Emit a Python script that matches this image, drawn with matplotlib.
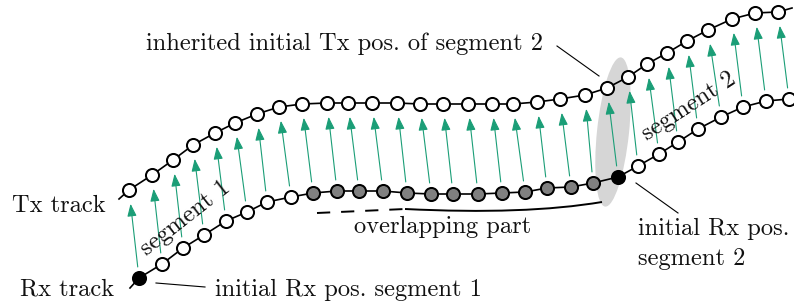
import matplotlib
matplotlib.use("Agg")
import matplotlib.pyplot as plt
import numpy as np
from matplotlib.patches import FancyArrowPatch, Ellipse, PathPatch
from matplotlib.path import Path

# ---- data (pixel-space diagram coordinates) ----
rx_x = [139, 162, 183, 204, 226, 247, 267, 291,
        313, 337, 359, 383, 407, 431, 453, 478, 502, 525, 547, 571, 593,
        618,
        638, 659, 678, 698, 721, 743, 766, 789]
rx_y = [278, 264, 248, 235, 221, 212, 202, 197,
        193, 191, 191, 191, 193, 194, 194, 194, 193, 192, 188, 187, 183,
        177,
        166, 154, 142, 129, 117, 107, 101, 99]
tx_x = [129, 152, 173, 193, 215, 235, 257, 279,
        302, 327, 348, 372, 397, 420, 443, 468, 492, 513, 537, 560, 585,
        607,
        628, 647, 667, 687, 708, 732, 755, 778]
tx_y = [190, 175, 160, 145, 133, 123, 114, 107,
        104, 103, 103, 103, 103, 104, 104, 104, 104, 104, 102, 99, 95,
        88,
        77, 64, 53, 41, 30, 19, 13, 12]
# point kinds: 0 = white, 1 = gray (overlapping), 2 = black (initial Rx)
rx_kind = [2] + [0]*7 + [1]*13 + [2] + [0]*8

GREEN = "#1b9e77"
FONT = "cmr10"
FS = 17.6

fig = plt.figure(figsize=(7.94, 3.06), dpi=100)
ax = fig.add_axes([0, 0, 1, 1])
ax.set_xlim(0, 794)
ax.set_ylim(306, 0)
ax.axis("off")

# shaded ellipse
ax.add_patch(Ellipse((613, 132), 32, 150, angle=6, facecolor="#d6d6d6",
                     edgecolor="none", zorder=0))

# arrows Rx -> Tx
for x0, y0, x1, y1 in zip(rx_x, rx_y, tx_x, tx_y):
    a = FancyArrowPatch((x0, y0), (x1, y1),
                        arrowstyle="-|>,head_length=0.75,head_width=0.28",
                        mutation_scale=10, shrinkA=8, shrinkB=10,
                        color=GREEN, lw=0.8, zorder=2)
    ax.add_patch(a)

# tracks
ax.plot([119] + tx_x + [792], [199] + tx_y + [8], color="black", lw=1.2, zorder=3)
ax.plot([130] + rx_x + [794], [288] + rx_y + [96], color="black", lw=1.2, zorder=3)

ax.plot(tx_x, tx_y, ls="none", marker="o", ms=9.4, mfc="white", mec="black",
        mew=1.45, zorder=4)
fills = {0: "white", 1: "#808080", 2: "black"}
for x, y, k in zip(rx_x, rx_y, rx_kind):
    ax.plot([x], [y], ls="none", marker="o", ms=9.4, mfc=fills[k], mec="black",
            mew=1.45, zorder=4)

# overlapping bracket
ax.plot([317, 405], [213, 209], color="black", lw=1.4, ls=(0, (6.8, 5.6)), zorder=3)
verts = [(405, 209), (525, 215), (602, 202)]
ax.add_patch(PathPatch(Path(verts, [Path.MOVETO, Path.CURVE3, Path.CURVE3]),
                       fill=False, edgecolor="black", lw=1.4, zorder=3))

# leader lines
ax.plot([557, 599], [46, 76], color="black", lw=0.8)
ax.plot([156, 205], [283, 287], color="black", lw=0.8)
ax.plot([636, 678], [183, 213], color="black", lw=0.8)

# text
kw = dict(fontfamily=FONT, fontsize=FS, color="#111111")
ax.text(146, 50, "inherited initial Tx pos. of segment 2", ha="left", va="baseline", **kw)
ax.text(12, 212, "Tx track", ha="left", va="baseline", **kw)
ax.text(20, 296, "Rx track", ha="left", va="baseline", **kw)
ax.text(215, 296, "initial Rx pos. segment 1", ha="left", va="baseline", **kw)
ax.text(443, 233, "overlapping part", ha="center", va="baseline", **kw)
ax.text(638, 235, "initial Rx pos.", ha="left", va="baseline", **kw)
ax.text(638, 265, "segment 2", ha="left", va="baseline", **kw)
ax.text(185, 218, "segment 1", ha="center", va="center", rotation=38,
        rotation_mode="anchor", **kw)
ax.text(689, 106, "segment 2", ha="center", va="center", rotation=33,
        rotation_mode="anchor", **kw)

fig.savefig("out.png", dpi=100)
